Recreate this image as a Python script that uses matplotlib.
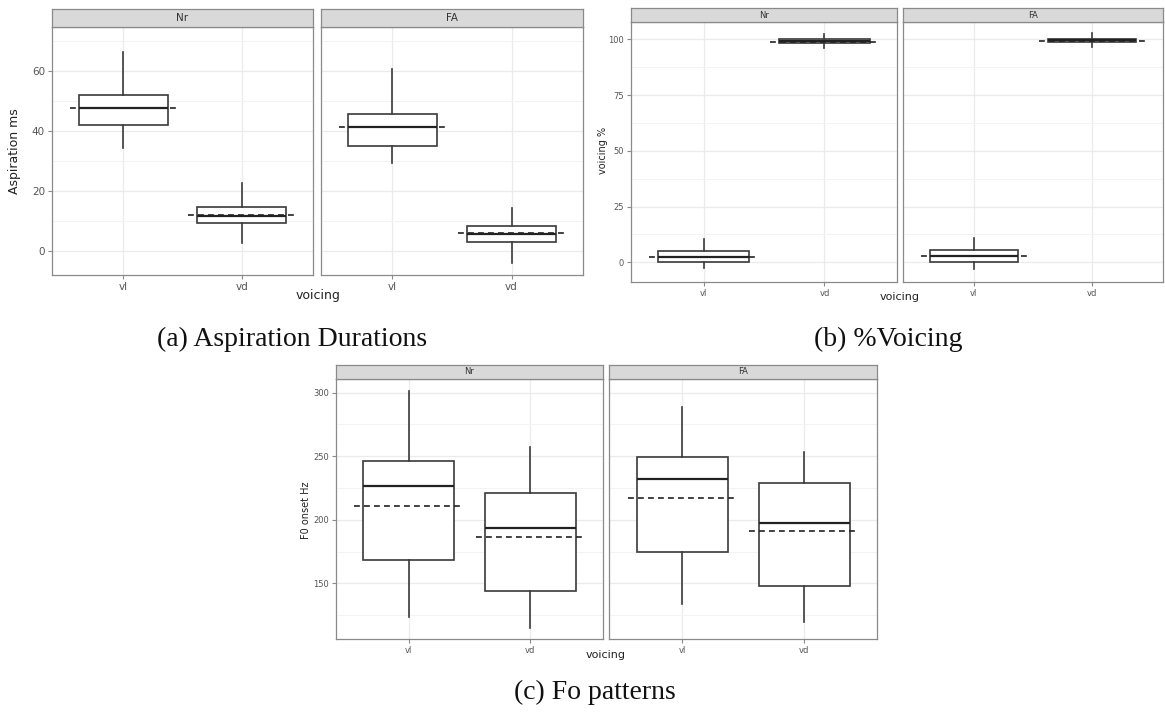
import matplotlib
matplotlib.use("Agg")
import matplotlib.pyplot as plt
import numpy as np

# categories
groups = ["vl", "vd"]
facets = ["Nr", "FA"]

# (a) aspiration durations, ms  -- per facet: [vl, vd]
asp_lo = {"Nr": [34.3, 2.5], "FA": [29.1, -4.2]}
asp_q1 = {"Nr": [41.8, 9.1], "FA": [35.0, 2.9]}
asp_med = {"Nr": [47.7, 11.6], "FA": [41.2, 5.5]}
asp_q3 = {"Nr": [51.9, 14.5], "FA": [45.5, 8.2]}
asp_hi = {"Nr": [66.3, 22.5], "FA": [60.6, 14.1]}
asp_mean = {"Nr": [47.5, 11.9], "FA": [41.2, 5.8]}

# (b) voicing %
voi_lo = {"Nr": [-2.7, 96.3], "FA": [-3.1, 96.8]}
voi_q1 = {"Nr": [0.3, 98.5], "FA": [0.3, 98.9]}
voi_med = {"Nr": [2.3, 99.4], "FA": [2.8, 99.6]}
voi_q3 = {"Nr": [4.9, 100.0], "FA": [5.4, 100.4]}
voi_hi = {"Nr": [10.5, 102.3], "FA": [11.0, 102.8]}
voi_mean = {"Nr": [2.5, 99.0], "FA": [2.8, 99.2]}

# (c) F0 onset Hz
f0_lo = {"Nr": [123.7, 115.0], "FA": [133.5, 119.3]}
f0_q1 = {"Nr": [168.3, 144.2], "FA": [174.9, 147.9]}
f0_med = {"Nr": [226.6, 193.3], "FA": [231.9, 197.7]}
f0_q3 = {"Nr": [246.1, 221.3], "FA": [249.2, 228.6]}
f0_hi = {"Nr": [301.3, 257.1], "FA": [288.5, 253.1]}
f0_mean = {"Nr": [210.9, 186.7], "FA": [217.2, 191.4]}

W, H = 1165, 713
fig = plt.figure(figsize=(W / 100, H / 100), dpi=100)
fig.patch.set_facecolor("white")

BORDER = "#8a8a8a"
TXT = "#555555"


def px_rect(x0, x1, y0, y1):
    return [x0 / W, 1 - y1 / H, (x1 - x0) / W, (y1 - y0) / H]


def facet(x0, x1, y0, y1, strip_top, name, lo, q1, med, q3, hi, mean,
          ylim, major, minor, show_y, fs):
    ax = fig.add_axes(px_rect(x0, x1, y0, y1))
    stats = []
    for i, g in enumerate(groups):
        stats.append(dict(label=g, whislo=lo[name][i], q1=q1[name][i],
                          med=med[name][i], q3=q3[name][i],
                          whishi=hi[name][i]))
    ax.bxp(stats, positions=[1, 2], widths=0.75, showfliers=False,
           showcaps=False, patch_artist=True, manage_ticks=False,
           boxprops=dict(facecolor="white", edgecolor="#3a3a3a", lw=1.2),
           medianprops=dict(color="#222222", lw=1.6),
           whiskerprops=dict(color="#3a3a3a", lw=1.2))
    ax.hlines(mean[name], np.array([1, 2]) - 0.45, np.array([1, 2]) + 0.45,
              colors="#222222", linestyles=(0, (3.5, 2.5)), lw=1.2, zorder=5)
    ax.set_xlim(0.4, 2.6)
    ax.set_ylim(*ylim)
    ax.set_yticks(major)
    ax.set_yticks(minor, minor=True)
    ax.set_xticks([1, 2])
    ax.set_xticklabels(groups)
    ax.grid(True, which="major", color="#ebebeb", lw=0.9, zorder=0)
    ax.grid(True, which="minor", axis="y", color="#f3f3f3", lw=0.7, zorder=0)
    ax.set_axisbelow(True)
    for s in ax.spines.values():
        s.set_color(BORDER)
        s.set_linewidth(0.9)
    ax.tick_params(axis="both", which="major", length=3, color=BORDER,
                   labelcolor=TXT, labelsize=fs, pad=2)
    ax.tick_params(axis="y", which="minor", length=0)
    if not show_y:
        ax.tick_params(axis="y", left=False, labelleft=False)
    # strip
    sx = fig.add_axes(px_rect(x0, x1, strip_top, y0))
    sx.set_facecolor("#d9d9d9")
    sx.set_xticks([])
    sx.set_yticks([])
    for s in sx.spines.values():
        s.set_color(BORDER)
        s.set_linewidth(0.9)
    sx.text(0.5, 0.5, name, ha="center", va="center", fontsize=fs,
            color="#333333", transform=sx.transAxes)
    return ax


# (a)
facet(52, 313, 27, 275, 9, "Nr", asp_lo, asp_q1, asp_med, asp_q3, asp_hi,
      asp_mean, (-8.1, 74.6), [0, 20, 40, 60], [10, 30, 50, 70], True, 7.5)
facet(321, 583, 27, 275, 9, "FA", asp_lo, asp_q1, asp_med, asp_q3, asp_hi,
      asp_mean, (-8.1, 74.6), [0, 20, 40, 60], [10, 30, 50, 70], False, 7.5)
fig.text(15 / W, 1 - 151 / H, "Aspiration ms", rotation=90, ha="center",
         va="center", fontsize=9, color="#222222")
fig.text(318 / W, 1 - 296 / H, "voicing", ha="center", va="center",
         fontsize=9, color="#222222")

# (b)
facet(631, 897, 22.3, 281.7, 8.3, "Nr", voi_lo, voi_q1, voi_med, voi_q3,
      voi_hi, voi_mean, (-8.7, 107.7), [0, 25, 50, 75, 100],
      [12.5, 37.5, 62.5, 87.5], True, 6)
facet(903, 1163, 22.3, 281.7, 8.3, "FA", voi_lo, voi_q1, voi_med, voi_q3,
      voi_hi, voi_mean, (-8.7, 107.7), [0, 25, 50, 75, 100],
      [12.5, 37.5, 62.5, 87.5], False, 6)
fig.text(603 / W, 1 - 150 / H, "voicing %", rotation=90, ha="center",
         va="center", fontsize=7, color="#222222")
fig.text(900 / W, 1 - 297 / H, "voicing", ha="center", va="center",
         fontsize=8, color="#222222")

# (c)
facet(335.7, 603.3, 379, 639.3, 365, "Nr", f0_lo, f0_q1, f0_med, f0_q3,
      f0_hi, f0_mean, (105.9, 310.8), [150, 200, 250, 300],
      [125, 175, 225, 275], True, 6)
facet(609.3, 877.3, 379, 639.3, 365, "FA", f0_lo, f0_q1, f0_med, f0_q3,
      f0_hi, f0_mean, (105.9, 310.8), [150, 200, 250, 300],
      [125, 175, 225, 275], False, 6)
fig.text(306 / W, 1 - 510 / H, "F0 onset Hz", rotation=90, ha="center",
         va="center", fontsize=7, color="#222222")
fig.text(606 / W, 1 - 655 / H, "voicing", ha="center", va="center",
         fontsize=8, color="#222222")

# captions
cap = dict(ha="center", va="center", fontsize=20, family="Liberation Serif",
           color="#111111")
fig.text(292 / W, 1 - 339 / H, "(a) Aspiration Durations", **cap)
fig.text(888 / W, 1 - 339 / H, "(b) %Voicing", **cap)
fig.text(595 / W, 1 - 692 / H, "(c) Fo patterns", **cap)

fig.savefig("out.png", dpi=100, facecolor="white")
